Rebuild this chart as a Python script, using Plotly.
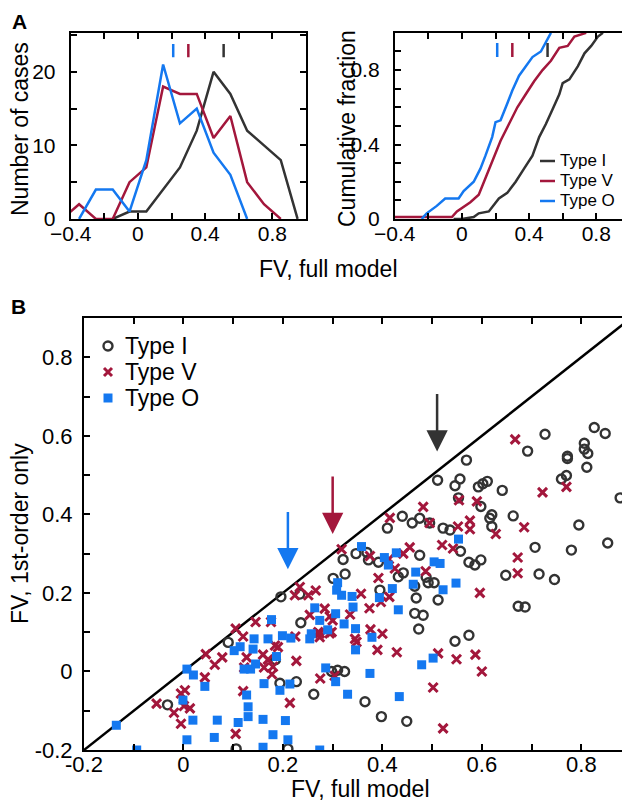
import plotly.graph_objects as go

# ---- panel A: histograms (bin centres, counts) ----
bin_centers = [-0.45, -0.35, -0.25, -0.15, -0.05, 0.05, 0.15, 0.25, 0.35, 0.45, 0.55, 0.65, 0.75, 0.85, 0.95]
hist_type_i = [None, None, None, 0, 1, 1, 4, 7, 12, 20, 17, 12, 10, 8, 0]
hist_type_v = [0, 2, 0, 0, 5, 7, 18, 17, 17, 11, 14, 5, 2, 0, None]
hist_type_o = [None, 0, 4, 4, 1, 8, 21, 13, 15, 9, 6, 0, None, None, None]

# mean FV per type (tick marks in A, arrows in B)
mean_fv = {"Type I": 0.51, "Type V": 0.30, "Type O": 0.21}

# ---- panel A: cumulative fractions ----
cdf_i_x = [-0.05, 0.0, 0.07, 0.10, 0.16, 0.22, 0.27, 0.32, 0.37, 0.42, 0.46, 0.50, 0.54, 0.58, 0.60, 0.64, 0.69, 0.73, 0.77, 0.81, 0.84]
cdf_i_y = [0.0, 0.0, 0.01, 0.03, 0.04, 0.11, 0.14, 0.20, 0.27, 0.34, 0.44, 0.51, 0.59, 0.67, 0.73, 0.75, 0.82, 0.89, 0.93, 0.98, 1.0]
cdf_v_x = [-0.40, -0.06, -0.03, 0.0, 0.05, 0.10, 0.14, 0.18, 0.23, 0.28, 0.33, 0.38, 0.43, 0.48, 0.53, 0.58, 0.63, 0.67, 0.74]
cdf_v_y = [0.01, 0.01, 0.04, 0.06, 0.09, 0.13, 0.22, 0.31, 0.42, 0.51, 0.60, 0.67, 0.74, 0.80, 0.85, 0.92, 0.93, 0.98, 1.0]
cdf_o_x = [-0.24, -0.21, -0.15, -0.10, -0.02, 0.01, 0.07, 0.11, 0.14, 0.18, 0.20, 0.23, 0.27, 0.30, 0.34, 0.38, 0.42, 0.47, 0.50, 0.53]
cdf_o_y = [0.0, 0.03, 0.07, 0.11, 0.11, 0.15, 0.20, 0.27, 0.34, 0.44, 0.52, 0.53, 0.62, 0.69, 0.77, 0.82, 0.87, 0.90, 0.95, 1.0]

# ---- panel B: FV full model vs FV 1st-order only ----
type_i_full = [-0.032, 0.09, 0.106, 0.196, 0.234, 0.236, 0.185, 0.194, 0.227, 0.262, 0.21, 0.301, 0.321, 0.325,
               0.347, 0.369, 0.372, 0.392, 0.41, 0.395, 0.432, 0.442, 0.465, 0.468, 0.465, 0.482, 0.473, 0.488,
               0.492, 0.504, 0.512, 0.475, 0.546, 0.574, 0.557, 0.574, 0.586, 0.598, 0.648, 0.707, 0.715, 0.746,
               0.78, 0.853, 0.673, 0.687, 0.298, 0.31, 0.324, 0.365, 0.398, 0.449, 0.727, 0.826, 0.848, 0.692,
               0.806, 0.806, 0.813, 0.772, 0.772, 0.811, 0.76, 0.77, 0.878, 0.569, 0.511, 0.556, 0.546, 0.593,
               0.602, 0.611, 0.641, 0.553, 0.598, 0.62, 0.616, 0.62, 0.663, 0.44, 0.46, 0.475, 0.495, 0.522,
               0.536, 0.795]
type_i_first = [-0.085, 0.074, -0.197, 0.19, 0.197, 0.124, 0.03, -0.03, -0.026, -0.058, -0.197, 0.237, 0.285, 0.248,
                0.30, 0.303, 0.284, 0.278, 0.365, 0.207, 0.241, 0.251, 0.217, 0.187, 0.148, 0.143, 0.108, 0.24,
                0.226, 0.226, 0.182, 0.296, 0.077, 0.092, 0.306, 0.278, 0.271, 0.284, 0.245, 0.316, 0.248, 0.234,
                0.309, 0.327, 0.166, 0.164, 0.0, 0.003, 0.0, -0.077, -0.115, -0.127, 0.604, 0.621, 0.606, 0.561,
                0.581, 0.566, 0.555, 0.548, 0.542, 0.52, 0.49, 0.499, 0.442, 0.538, 0.487, 0.49, 0.473, 0.47,
                0.478, 0.484, 0.461, 0.442, 0.42, 0.399, 0.39, 0.369, 0.396, 0.395, 0.378, 0.39, 0.378, 0.365,
                0.36, 0.373]

type_v_full = [-0.054, -0.019, -0.005, -0.005, 0.003, 0.001, 0.013, 0.043, 0.045, 0.063, 0.078, 0.105, 0.12, 0.127,
               0.122, 0.12, 0.105, 0.145, 0.234, 0.224, 0.251, 0.266, 0.284, 0.254, 0.294, 0.30, 0.335, 0.357,
               0.374, 0.392, 0.397, 0.414, 0.176, 0.274, 0.274, 0.298, 0.225, 0.345, 0.348, 0.376, 0.40, 0.39,
               0.429, 0.227, 0.184, 0.19, 0.16, 0.17, 0.18, 0.162, 0.178, 0.275, 0.304, 0.214, 0.318, 0.375,
               0.455, 0.413, 0.425, 0.487, 0.52, 0.542, 0.672, 0.672, 0.596, 0.271, 0.294, 0.512, 0.549, 0.587,
               0.60, 0.502, 0.522, 0.415, 0.667, 0.722, 0.77, 0.482, 0.554, 0.59, 0.576, 0.576, 0.628, 0.685,
               0.495, 0.552, 0.442]
type_v_first = [-0.082, -0.105, -0.133, -0.056, -0.048, -0.088, -0.094, -0.015, 0.044, 0.017, 0.036, 0.109, 0.089, 0.036,
                0.01, -0.05, -0.159, 0.126, 0.215, 0.194, 0.194, 0.206, 0.16, 0.144, 0.14, 0.13, 0.145, 0.198,
                0.161, 0.238, 0.177, 0.19, 0.126, 0.097, 0.087, 0.10, 0.089, 0.083, 0.075, 0.107, 0.096, 0.055,
                0.049, 0.027, 0.066, 0.062, 0.043, 0.03, 0.012, 0.01, -0.007, -0.018, -0.011, -0.08, 0.311, 0.294,
                0.316, 0.286, 0.262, 0.255, 0.322, 0.313, 0.29, 0.25, 0.2, 0.10, 0.097, 0.046, 0.031, 0.043,
                0.0, -0.041, -0.145, 0.391, 0.591, 0.456, 0.47, 0.419, 0.436, 0.433, 0.384, 0.362, 0.35, 0.367,
                0.378, 0.369, 0.30]

type_o_full = [-0.135, -0.094, 0.007, 0.02, 0.043, -0.001, 0.019, 0.007, 0.068, 0.062, 0.11, 0.13, 0.13, 0.127,
               0.102, 0.114, 0.142, 0.14, 0.122, 0.135, 0.145, 0.31, 0.308, 0.318, 0.339, 0.341, 0.264, 0.274,
               0.306, 0.323, 0.346, 0.29, 0.257, 0.254, 0.379, 0.346, 0.177, 0.17, 0.199, 0.216, 0.187, 0.286,
               0.306, 0.375, 0.33, 0.434, 0.214, 0.194, 0.162, 0.16, 0.205, 0.18, 0.21, 0.16, 0.274, 0.462,
               0.42, 0.394, 0.432, 0.479, 0.553, 0.504, 0.516, 0.358, 0.404, 0.412, 0.428, 0.467, 0.522, 0.548,
               0.502]
type_o_first = [-0.137, -0.2, 0.006, -0.009, -0.038, -0.073, -0.124, -0.174, -0.124, -0.168, -0.13, -0.115, -0.09, -0.06,
                0.053, 0.063, 0.083, 0.057, 0.006, 0.006, 0.019, 0.226, 0.207, 0.194, 0.191, 0.164, 0.162, 0.13,
                0.147, 0.121, 0.109, 0.106, 0.096, 0.083, 0.087, 0.055, 0.132, 0.083, 0.091, 0.085, 0.038, 0.009,
                -0.026, -0.005, -0.058, -0.064, -0.032, -0.048, -0.031, -0.122, -0.125, -0.161, -0.174, -0.193, -0.2, 0.222,
                0.211, 0.188, 0.157, 0.017, 0.337, 0.279, 0.275, 0.318, 0.29, 0.271, 0.302, 0.253, 0.208, 0.225,
                0.034]

type_names = ["Type I", "Type V", "Type O"]

BLACK = "#333333"
RED = "#a3173c"
BLUE = "#1478f0"
FONT = "Liberation Sans, Arial, sans-serif"
colors = {"Type I": BLACK, "Type V": RED, "Type O": BLUE}
W, H = 630, 802

def px(x, y):
    return x / W, 1 - y / H

fig = go.Figure()

# A left: histograms
for name, counts in zip(type_names, [hist_type_i, hist_type_v, hist_type_o]):
    fig.add_trace(go.Scatter(x=bin_centers, y=counts, mode="lines", line=dict(color=colors[name], width=2.5),
                             showlegend=False, xaxis="x", yaxis="y"))
for name, m in mean_fv.items():
    fig.add_trace(go.Scatter(x=[m, m], y=[22.0, 23.8], mode="lines", line=dict(color=colors[name], width=2.5),
                             showlegend=False, xaxis="x", yaxis="y"))

# A right: cumulative
for name, cx, cy in zip(type_names, [cdf_i_x, cdf_v_x, cdf_o_x], [cdf_i_y, cdf_v_y, cdf_o_y]):
    fig.add_trace(go.Scatter(x=cx, y=cy, mode="lines", line=dict(color=colors[name], width=2.5),
                             showlegend=False, xaxis="x2", yaxis="y2"))
for name, m in mean_fv.items():
    fig.add_trace(go.Scatter(x=[m, m], y=[0.87, 0.945], mode="lines", line=dict(color=colors[name], width=2.5),
                             showlegend=False, xaxis="x2", yaxis="y2"))

# B: diagonal + scatter
lim_b = [-0.2, 0.9]
fig.add_trace(go.Scatter(x=lim_b, y=lim_b, mode="lines", line=dict(color="black", width=2.5),
                         showlegend=False, xaxis="x3", yaxis="y3"))
fig.add_trace(go.Scatter(x=type_i_full, y=type_i_first, mode="markers", showlegend=False,
                         marker=dict(symbol="circle-open", size=9, color=BLACK, line=dict(width=2.4, color=BLACK)),
                         xaxis="x3", yaxis="y3"))
fig.add_trace(go.Scatter(x=type_v_full, y=type_v_first, mode="markers", showlegend=False,
                         marker=dict(symbol="x-thin-open", size=9, color=RED, line=dict(width=3, color=RED)),
                         xaxis="x3", yaxis="y3"))
fig.add_trace(go.Scatter(x=type_o_full, y=type_o_first, mode="markers", showlegend=False,
                         marker=dict(symbol="square", size=9, color=BLUE, line=dict(width=0)),
                         xaxis="x3", yaxis="y3"))

for name, m in mean_fv.items():
    fig.add_annotation(x=m, y=m + 0.05, ax=m, ay=m + 0.2, xref="x3", yref="y3", axref="x3", ayref="y3",
                       text="", showarrow=True, arrowhead=2, arrowsize=1.7, arrowwidth=2.5,
                       arrowcolor=colors[name])

axis_common = dict(showline=True, linecolor="black", linewidth=2, mirror="allticks", ticks="inside",
                   ticklen=6, tickwidth=2, tickcolor="black", showgrid=False, zeroline=False,
                   automargin=False)

def ticks(vals, labels_every, minus):
    text = []
    for i, v in enumerate(vals):
        if i % labels_every == 0:
            s = "0" if abs(v) < 1e-9 else f"{v:.1f}"
            text.append(s.replace("-", minus))
        else:
            text.append("")
    return text

xa_vals = [round(-0.4 + 0.2 * i, 1) for i in range(8)]
xa_text = ticks(xa_vals, 2, "\u2212")
ya1_vals = [0, 5, 10, 15, 20, 25]
ya1_text = ["0", "", "10", "", "20", ""]
ya2_vals = [round(0.1 * i, 1) for i in range(11)]
ya2_text = ["0", "", "", "", "0.4", "", "", "", "0.8", "", ""]
b_vals = [round(-0.2 + 0.1 * i, 1) for i in range(12)]
b_text = ticks(b_vals, 2, "-")

fa = dict(family=FONT, size=21, color="black")
fb = dict(family=FONT, size=22, color="black")

fig.update_layout(
    width=W, height=H, autosize=False,
    margin=dict(l=0, r=0, t=0, b=0),
    paper_bgcolor="white", plot_bgcolor="white",
    font=dict(family=FONT, size=20, color="black"),
    showlegend=False,
    xaxis=dict(domain=[0.0995, 0.473], range=[-0.4, 1.0], anchor="y", tickvals=xa_vals, ticktext=xa_text,
               tickfont=fa, ticklabelstandoff=-5, **axis_common),
    yaxis=dict(domain=[0.737, 0.969], range=[0, 25.3], anchor="x", tickvals=ya1_vals, ticktext=ya1_text,
               tickfont=fa, ticklabelstandoff=9, **axis_common),
    xaxis2=dict(domain=[0.614, 0.987], range=[-0.4, 1.0], anchor="y2", tickvals=xa_vals, ticktext=xa_text,
                tickfont=fa, ticklabelstandoff=-5, **axis_common),
    yaxis2=dict(domain=[0.737, 0.969], range=[0, 1.0], anchor="x2", tickvals=ya2_vals, ticktext=ya2_text,
                tickfont=fa, ticklabelstandoff=9, **axis_common),
    xaxis3=dict(domain=[0.1206, 0.989], range=lim_b, anchor="y3", tickvals=b_vals, ticktext=b_text,
                tickfont=fb, ticklabelstandoff=-6, **axis_common),
    yaxis3=dict(domain=[0.0748, 0.6135], range=lim_b, anchor="x3", tickvals=b_vals, ticktext=b_text,
                tickfont=fb, ticklabelstandoff=5, **axis_common),
)

# legend of the cumulative panel (short line keys)
for i, name in enumerate(type_names):
    yk = 153 + 20 * i
    x0, y0 = px(532, yk)
    x1, _ = px(547, yk)
    fig.add_shape(type="line", xref="paper", yref="paper", x0=x0, x1=x1, y0=y0, y1=y0,
                  line=dict(color=colors[name], width=2.5))
    tx, ty = px(550, yk)
    fig.add_annotation(text=name, x=tx, y=ty, xref="paper", yref="paper", showarrow=False,
                       xanchor="left", yanchor="middle", font=dict(family=FONT, size=17, color="black"))

# legend of panel B (marker keys)
for i, name in enumerate(type_names):
    yk = 338 + 26 * i
    ax_, ay_ = px(100, yk)
    if name == "Type I":
        fig.add_shape(type="circle", xref="paper", yref="paper", xsizemode="pixel", ysizemode="pixel",
                      xanchor=ax_, yanchor=ay_, x0=-4.5, x1=4.5, y0=-4.5, y1=4.5,
                      line=dict(color=BLACK, width=2.4))
    elif name == "Type V":
        fig.add_shape(type="path", xref="paper", yref="paper", xsizemode="pixel", ysizemode="pixel",
                      xanchor=ax_, yanchor=ay_, path="M-4,-4 L4,4 M-4,4 L4,-4", line=dict(color=RED, width=3))
    else:
        fig.add_shape(type="rect", xref="paper", yref="paper", xsizemode="pixel", ysizemode="pixel",
                      xanchor=ax_, yanchor=ay_, x0=-4.5, x1=4.5, y0=-4.5, y1=4.5,
                      line=dict(width=0), fillcolor=BLUE)
    tx, ty = px(115, yk)
    fig.add_annotation(text=name, x=tx, y=ty, xref="paper", yref="paper", showarrow=False,
                       xanchor="left", yanchor="middle", font=dict(family=FONT, size=23, color="black"))

labels = [
    dict(text="<b>A</b>", x=11, y=13, size=21, angle=0),
    dict(text="<b>B</b>", x=10, y=298, size=21, angle=0),
    dict(text="Number of cases", x=12, y=121, size=23, angle=-90),
    dict(text="Cumulative fraction", x=339, y=121, size=23, angle=-90),
    dict(text="FV, full model", x=320, y=261, size=23, angle=0),
    dict(text="FV, full model", x=352, y=781, size=23, angle=0),
    dict(text="FV, 1st-order only", x=12, y=526, size=23, angle=-90),
]
for lab in labels:
    lx, ly = px(lab["x"], lab["y"])
    fig.add_annotation(text=lab["text"], x=lx, y=ly, xref="paper", yref="paper",
                       showarrow=False, textangle=lab["angle"], xanchor="center", yanchor="middle",
                       font=dict(family=FONT, size=lab["size"], color="black"))

fig.write_html("out.html")
